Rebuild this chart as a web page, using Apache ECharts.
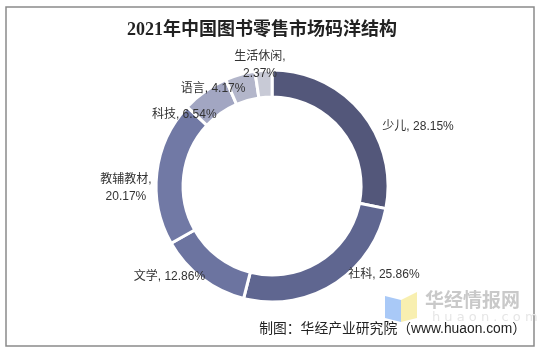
<!DOCTYPE html>
<html>
<head>
<meta charset="utf-8">
<script src="https://cdn.jsdelivr.net/npm/echarts@6/dist/echarts.min.js"></script>
<style>
html,body{margin:0;padding:0;background:#fff;}
#main{width:542px;height:353px;}
</style>
</head>
<body>
<div id="main"></div>
<script>
const categories = ['少儿', '社科', '文学', '教辅教材', '科技', '语言', '生活休闲'];
const shares = [28.15, 25.86, 12.86, 20.17, 6.54, 4.17, 2.37];
const sliceColors = ['#53577a', '#5f6690', '#6c74a0', '#7179a5', '#a2a6c2', '#b3b6ca', '#c8cad6'];
const titleText = '2021年中国图书零售市场码洋结构';
const sourceText = '制图：华经产业研究院（www.huaon.com）';
// label nudges (Excel-like placement of data labels)
const labelNudges = [[11, 18], [6, -14], [12, -6], [7, 16], [20, 28], [12, 20], [29, 1]];

const chart = echarts.init(document.getElementById('main'), null, {renderer: 'canvas'});
const data = categories.map((c, i) => ({name: c, value: shares[i], itemStyle: {color: sliceColors[i]}}));

chart.setOption({
  animation: false,
  backgroundColor: '#fff',
  title: {
    text: titleText,
    left: 122,
    top: 16,
    textStyle: {fontFamily: '"Liberation Serif", "Noto Sans CJK SC"', fontWeight: 'bold', fontSize: 18, color: '#222'}
  },
  graphic: [
    {type: 'rect', shape: {x: 6, y: 7, width: 528, height: 339}, style: {fill: 'none', stroke: '#8a8a8a', lineWidth: 1.5}, z: 0},
    {type: 'polygon', shape: {points: [[385, 296], [401, 300], [401, 322], [385, 318]]}, style: {fill: '#a9c9f7'}, z: 1},
    {type: 'polygon', shape: {points: [[401, 300], [417, 292], [417, 318], [401, 322]]}, style: {fill: '#f8efb0'}, z: 1},
    {type: 'text', left: 425, top: 290, style: {text: '华经情报网', fill: '#c9c9c9', font: 'bold 19px "Noto Sans CJK SC"'}, z: 1},
    {type: 'text', left: 432, top: 311, style: {text: 'h u a o n . c o m', fill: '#e6e6e6', font: '13px "DejaVu Sans"'}, z: 1},
    {type: 'text', right: 16, top: 322, style: {text: sourceText, fill: '#222', font: '13.8px "Liberation Sans", "Noto Sans CJK SC"'}, z: 2}
  ],
  series: [{
    type: 'pie',
    center: ['50.2%', '52.7%'],
    radius: [89, 116],
    startAngle: 90,
    clockwise: true,
    avoidLabelOverlap: false,
    minShowLabelAngle: 0,
    itemStyle: {borderColor: '#fff', borderWidth: 3},
    label: {
      show: true,
      position: 'outside',
      color: '#333',
      fontSize: 12,
      fontFamily: '"Liberation Sans", "Noto Sans CJK SC"',
      lineHeight: 17,
      formatter: p => p.name.length >= 4
        ? '{c|' + p.name + ',}\n{c|' + p.value.toFixed(2) + '%}'
        : p.name + ', ' + p.value.toFixed(2) + '%',
      rich: {
        c: {width: 54, align: 'center', fontSize: 12, lineHeight: 17, color: '#333', fontFamily: '"Liberation Sans", "Noto Sans CJK SC"'}
      }
    },
    labelLine: {show: false, length: 6, length2: 0},
    labelLayout: p => ({hideOverlap: false, dx: labelNudges[p.dataIndex][0], dy: labelNudges[p.dataIndex][1]}),
    emphasis: {disabled: true},
    data: data
  }]
});
</script>
</body>
</html>
